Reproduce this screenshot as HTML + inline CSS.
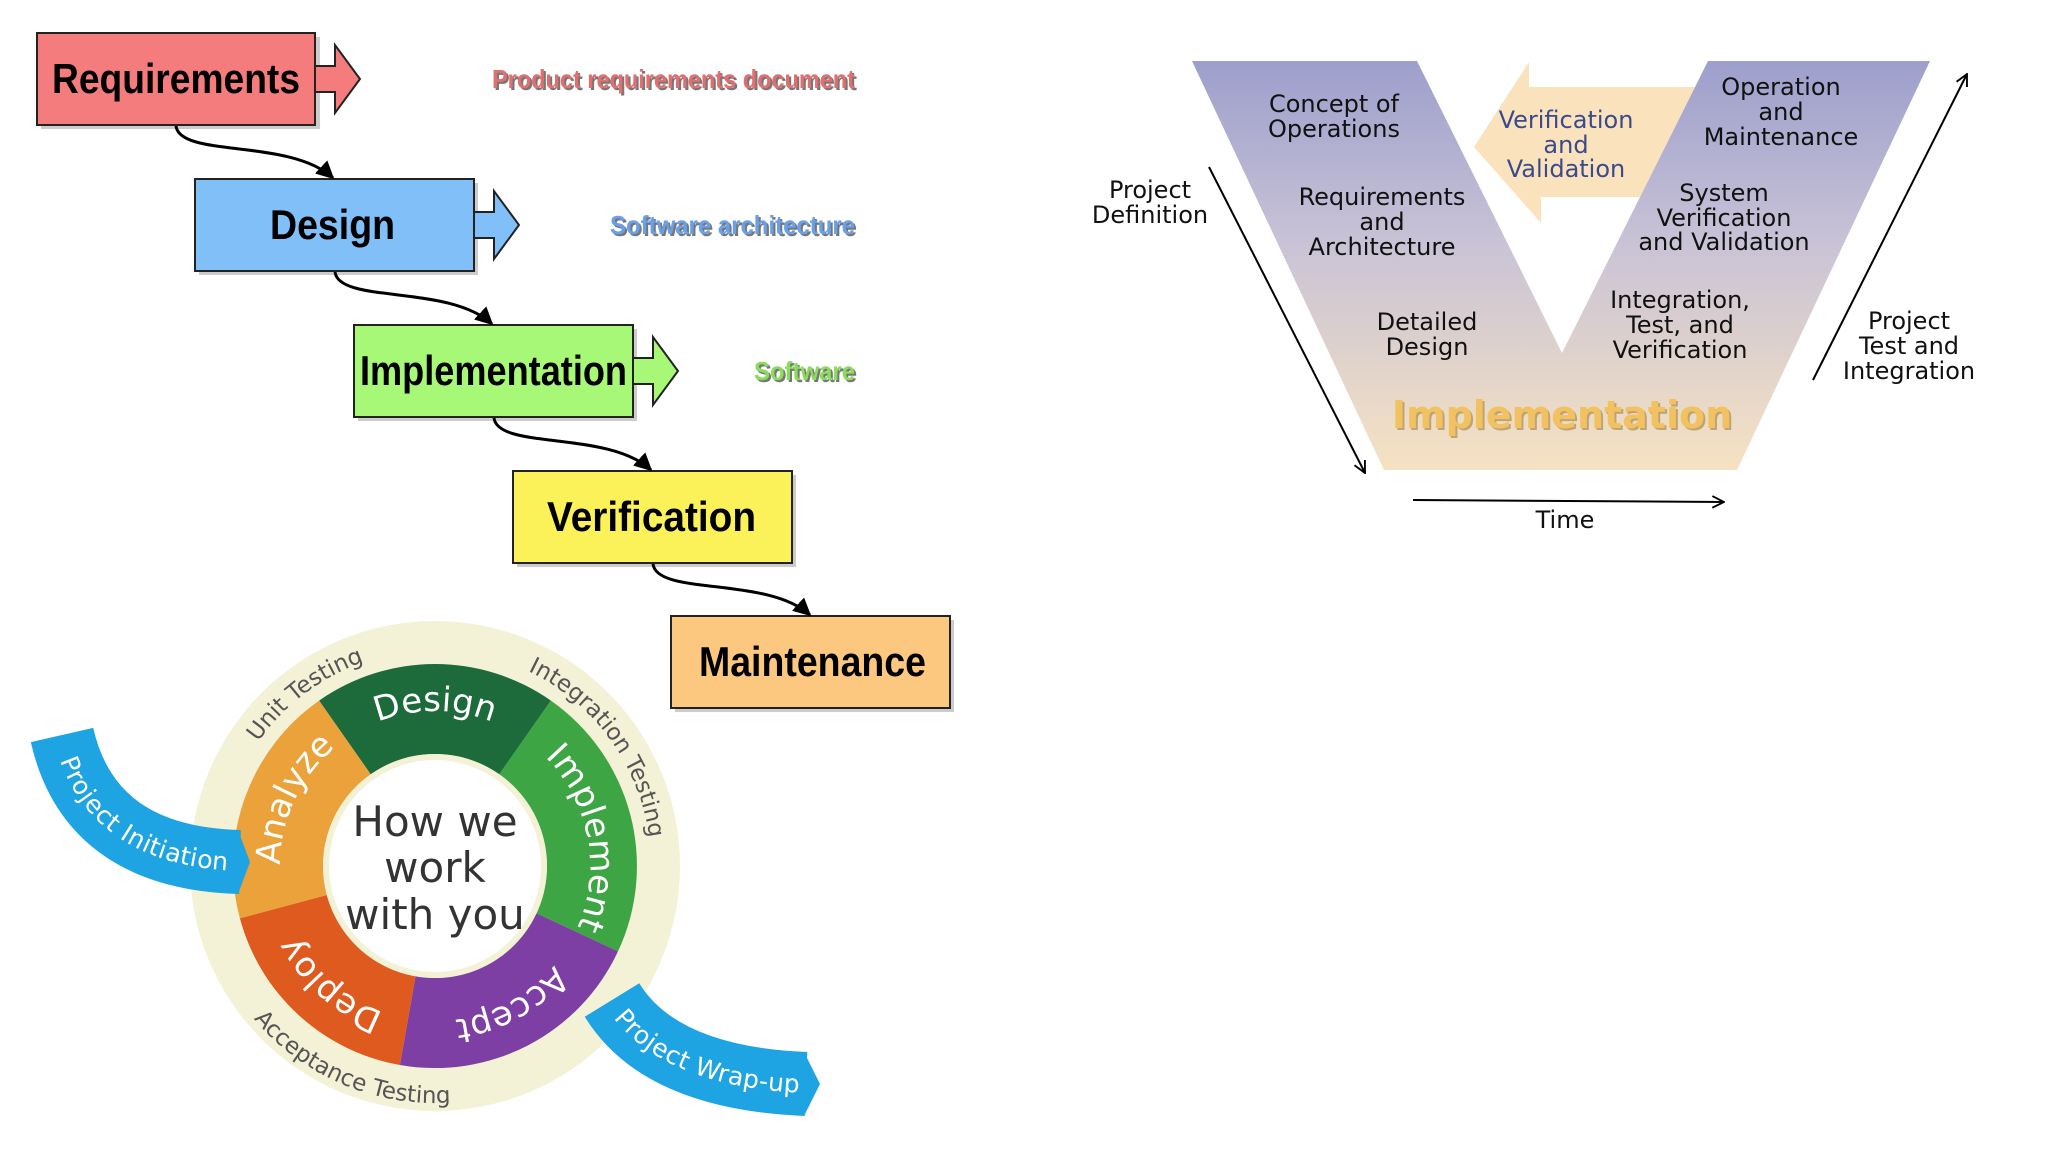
<!DOCTYPE html>
<html><head><meta charset="utf-8"><style>html,body{margin:0;padding:0;background:#fff;}svg{display:block}</style></head>
<body>
<svg width="2048" height="1152" viewBox="0 0 2048 1152" xmlns="http://www.w3.org/2000/svg">
<defs>
<marker id="ah" viewBox="0 0 10 10" refX="9" refY="5" markerWidth="6" markerHeight="6" orient="auto"><path d="M0,0 L10,5 L0,10 Z" fill="#000"/></marker>
<marker id="oa" viewBox="0 0 12 12" refX="11" refY="6" markerWidth="14" markerHeight="14" markerUnits="userSpaceOnUse" orient="auto"><path d="M1,1 L11,6 L1,11" fill="none" stroke="#000" stroke-width="1.6"/></marker>
<linearGradient id="vg" x1="0" y1="0" x2="0" y2="1"><stop offset="0" stop-color="#9d9fcc"/><stop offset="0.45" stop-color="#c9c3d6"/><stop offset="1" stop-color="#f6e2c2"/></linearGradient>
<clipPath id="vvclip"><polygon points="1300,0 1720,0 1708,61 1562,353 1300,353"/></clipPath>
<path id="cw1" d="M590 866 A155 155 0 1 1 280 866 A155 155 0 1 1 590 866"/>
<path id="cw1b" d="M280 866 A155 155 0 1 1 590 866 A155 155 0 1 1 280 866"/>
<path id="cw2" d="M651 866 A216 216 0 1 1 219 866 A216 216 0 1 1 651 866"/>
<path id="cw2b" d="M219 866 A216 216 0 1 1 651 866 A216 216 0 1 1 219 866"/>
<path id="ccw1" d="M672 866 A237 237 0 1 0 198 866 A237 237 0 1 0 672 866"/>
<path id="pi" d="M62 735 Q 90 858 242 862"/>
<path id="pw" d="M612 1000 Q 660 1078 806 1084"/>
</defs>
<rect width="2048" height="1152" fill="#fff"/>

<!-- Waterfall -->
<g stroke="#222" stroke-width="2">
<rect x="41" y="37" width="279" height="92" fill="#999" stroke="none" opacity="0.5"/>
<polygon points="315,66 335,66 335,45 360,79 335,113 335,92 315,92" fill="#f47c7c"/>
<rect x="37" y="33" width="278" height="92" fill="#f47c7c"/>
<rect x="199" y="183" width="279" height="92" fill="#999" stroke="none" opacity="0.5"/>
<polygon points="474,212 494,212 494,191 519,225 494,259 494,238 474,238" fill="#80bff8"/>
<rect x="195" y="179" width="279" height="92" fill="#80bff8"/>
<rect x="358" y="329" width="279" height="92" fill="#999" stroke="none" opacity="0.5"/>
<polygon points="633,358 653,358 653,337 678,371 653,405 653,384 633,384" fill="#a8f878"/>
<rect x="354" y="325" width="279" height="92" fill="#a8f878"/>
<rect x="517" y="475" width="279" height="92" fill="#999" stroke="none" opacity="0.5"/>
<rect x="513" y="471" width="279" height="92" fill="#fbf25a"/>
<rect x="675" y="620" width="279" height="92" fill="#999" stroke="none" opacity="0.5"/>
<rect x="671" y="616" width="279" height="92" fill="#fcc880"/>
</g>
<g fill="none" stroke="#000" stroke-width="3" marker-end="url(#ah)">
<path d="M176 126 C 180 158, 290 138, 333 178"/>
<path d="M335 272 C 339 304, 449 284, 492 324"/>
<path d="M494 418 C 498 450, 608 430, 651 470"/>
<path d="M653 564 C 657 596, 767 576, 810 615"/>
</g>
<g font-family="Liberation Sans, sans-serif" font-weight="bold" font-size="42" fill="#000">
<text x="52" y="93" textLength="248" lengthAdjust="spacingAndGlyphs">Requirements</text>
<text x="270" y="239" textLength="125" lengthAdjust="spacingAndGlyphs">Design</text>
<text x="360" y="385" textLength="267" lengthAdjust="spacingAndGlyphs">Implementation</text>
<text x="547" y="531" textLength="209" lengthAdjust="spacingAndGlyphs">Verification</text>
<text x="699" y="676" textLength="227" lengthAdjust="spacingAndGlyphs">Maintenance</text>
</g>
<g font-family="Liberation Sans, sans-serif" font-weight="bold" font-size="26">
<text x="494" y="90" fill="#777" textLength="363" lengthAdjust="spacingAndGlyphs">Product requirements document</text>
<text x="492" y="88" fill="#e07070" textLength="363" lengthAdjust="spacingAndGlyphs">Product requirements document</text>
<text x="612" y="236" fill="#777" textLength="245" lengthAdjust="spacingAndGlyphs">Software architecture</text>
<text x="610" y="234" fill="#6aa0e8" textLength="245" lengthAdjust="spacingAndGlyphs">Software architecture</text>
<text x="756" y="382" fill="#777" textLength="101" lengthAdjust="spacingAndGlyphs">Software</text>
<text x="754" y="380" fill="#8cdc5c" textLength="101" lengthAdjust="spacingAndGlyphs">Software</text>
</g>

<!-- Cycle -->
<circle cx="435" cy="866" r="245" fill="#f3f1d6"/>
<path d="M319.1 700.6 A202 202 0 0 1 550.9 700.6 L499.3 774.3 A112 112 0 0 0 370.7 774.3 Z" fill="#1d6b3b"/>
<path d="M550.9 700.6 A202 202 0 0 1 618 951.4 L536.5 913.3 A112 112 0 0 0 499.3 774.3 Z" fill="#3ea545"/>
<path d="M618 951.4 A202 202 0 0 1 399.9 1065 L415.5 976.3 A112 112 0 0 0 536.5 913.3 Z" fill="#7d3fa3"/>
<path d="M399.9 1065 A202 202 0 0 1 239.9 918.3 L326.8 895 A112 112 0 0 0 415.5 976.3 Z" fill="#df5a1e"/>
<path d="M239.9 918.3 A202 202 0 0 1 319.1 700.6 L370.7 774.3 A112 112 0 0 0 326.8 895 Z" fill="#eba23a"/>
<circle cx="435" cy="866" r="112" fill="#f3f1d6"/>
<circle cx="435" cy="866" r="106" fill="#fff"/>
<g font-family="DejaVu Sans, sans-serif" font-size="34" fill="#fff" text-anchor="middle">
<text><textPath href="#cw1" startOffset="75%">Design</textPath></text>
<text><textPath href="#cw1b" startOffset="47%">Implement</textPath></text>
<text><textPath href="#cw1" startOffset="17%">Accept</textPath></text>
<text><textPath href="#cw1" startOffset="36.5%">Deploy</textPath></text>
<text><textPath href="#cw1" startOffset="57%">Analyze</textPath></text>
</g>
<g font-family="DejaVu Sans, sans-serif" font-size="23" fill="#555" text-anchor="middle">
<text><textPath href="#cw2" startOffset="64.7%">Unit Testing</textPath></text>
<text><textPath href="#cw2b" startOffset="40%">Integration Testing</textPath></text>
<text><textPath href="#ccw1" startOffset="68.6%">Acceptance Testing</textPath></text>
</g>
<g font-family="DejaVu Sans, sans-serif" font-size="42" fill="#333" text-anchor="middle">
<text x="435" y="836">How we</text>
<text x="435" y="882">work</text>
<text x="435" y="929">with you</text>
</g>
<path d="M62 735 Q 90 858 240 862" fill="none" stroke="#1ea3e3" stroke-width="64"/>
<polygon points="238,830 250,862 238,894" fill="#1ea3e3"/>
<path d="M612 1000 Q 660 1078 806 1084" fill="none" stroke="#1ea3e3" stroke-width="64"/>
<polygon points="804,1052 820,1084 804,1116" fill="#1ea3e3"/>
<g font-family="DejaVu Sans, sans-serif" font-size="25" fill="#fff" text-anchor="middle">
<text dy="9"><textPath href="#pi" startOffset="52%">Project Initiation</textPath></text>
<text dy="9"><textPath href="#pw" startOffset="52%">Project Wrap-up</textPath></text>
</g>

<!-- V model -->
<path d="M1192 61 L1417 61 L1562 353 L1708 61 L1930 61 L1737 470 L1384 470 Z" fill="url(#vg)"/>
<polygon clip-path="url(#vvclip)" points="1474,147 1529,62 1529,87 1720,87 1720,197 1541,197 1541,223" fill="#f8d9a6" opacity="0.75"/>
<g font-family="DejaVu Sans, sans-serif" font-size="24" fill="#111" text-anchor="middle">
<text x="1334" y="112">Concept of</text><text x="1334" y="137">Operations</text>
<text x="1781" y="95">Operation</text><text x="1781" y="120">and</text><text x="1781" y="145">Maintenance</text>
<text x="1382" y="205">Requirements</text><text x="1382" y="230">and</text><text x="1382" y="255">Architecture</text>
<text x="1724" y="201">System</text><text x="1724" y="226">Verification</text><text x="1724" y="250">and Validation</text>
<text x="1427" y="330">Detailed</text><text x="1427" y="355">Design</text>
<text x="1680" y="308">Integration,</text><text x="1680" y="333">Test, and</text><text x="1680" y="358">Verification</text>
<text x="1150" y="198">Project</text><text x="1150" y="223">Definition</text>
<text x="1909" y="329">Project</text><text x="1909" y="354">Test and</text><text x="1909" y="379">Integration</text>
<text x="1565" y="528">Time</text>
</g>
<g font-family="DejaVu Sans, sans-serif" font-size="24" fill="#3a4a8c" text-anchor="middle">
<text x="1566" y="128">Verification</text><text x="1566" y="153">and</text><text x="1566" y="177">Validation</text>
</g>
<text x="1564" y="430" font-family="DejaVu Sans, sans-serif" font-weight="bold" font-size="38" fill="#a08040" text-anchor="middle" opacity="0.6">Implementation</text>
<text x="1562" y="428" font-family="DejaVu Sans, sans-serif" font-weight="bold" font-size="38" fill="#f2c260" text-anchor="middle">Implementation</text>
<g stroke="#000" stroke-width="2" fill="none" marker-end="url(#oa)">
<line x1="1209" y1="167" x2="1365" y2="473"/>
<line x1="1813" y1="380" x2="1967" y2="74"/>
<line x1="1413" y1="500" x2="1724" y2="502"/>
</g>
</svg>
</body></html>
